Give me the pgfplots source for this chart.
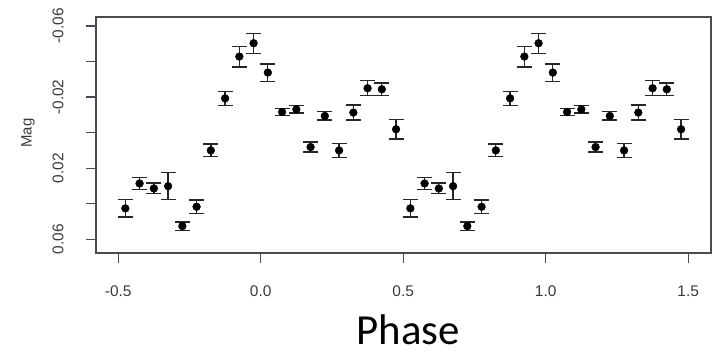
\documentclass[border=0pt]{standalone}
\usepackage{pgfplots}
\pgfplotsset{compat=1.18}
\usepackage{pgfplotstable}
\usepackage{fontspec}
\setmainfont{Liberation Sans}
\newfontfamily\calibri{Carlito}
\definecolor{framec}{HTML}{4A4A52}
\definecolor{tickc}{HTML}{3A3A3A}

\pgfplotstableread{
phase mag err
-0.475 0.0426 0.0049
-0.425 0.0286 0.0033
-0.375 0.0314 0.0030
-0.325 0.0301 0.0075
-0.275 0.0526 0.0023
-0.225 0.0417 0.0038
-0.175 0.0100 0.0036
-0.125 -0.0193 0.0040
-0.075 -0.0428 0.0058
-0.025 -0.0503 0.0056
0.025 -0.0338 0.0049
0.075 -0.0116 0.0020
0.125 -0.0131 0.0020
0.175 0.0081 0.0028
0.225 -0.0094 0.0023
0.275 0.0100 0.0038
0.325 -0.0113 0.0042
0.375 -0.0250 0.0042
0.425 -0.0244 0.0035
0.475 -0.0019 0.0054
0.525 0.0426 0.0049
0.575 0.0286 0.0033
0.625 0.0314 0.0030
0.675 0.0301 0.0075
0.725 0.0526 0.0023
0.775 0.0417 0.0038
0.825 0.0100 0.0036
0.875 -0.0193 0.0040
0.925 -0.0428 0.0058
0.975 -0.0503 0.0056
1.025 -0.0338 0.0049
1.075 -0.0116 0.0020
1.125 -0.0131 0.0020
1.175 0.0081 0.0028
1.225 -0.0094 0.0023
1.275 0.0100 0.0038
1.325 -0.0113 0.0042
1.375 -0.0250 0.0042
1.425 -0.0244 0.0035
1.475 -0.0019 0.0054
}\lcdata

\begin{document}
\begin{tikzpicture}
\path[use as bounding box] (0,0) rectangle (715bp,354bp);
\begin{axis}[
  at={(96bp,101bp)}, anchor=south west,
  scale only axis, width=615bp, height=236bp,
  xmin=-0.578, xmax=1.580,
  ymin=-0.06506, ymax=0.06771,
  y dir=reverse,
  scaled y ticks=false, scaled x ticks=false,
  axis line style={framec, line width=1.2bp},
  tick pos=left, tick align=outside,
  major tick length=10bp,
  every tick/.style={framec, line width=1.2bp},
  xtick={-0.5,0,0.5,1,1.5},
  xticklabels={-0.5,0.0,0.5,1.0,1.5},
  ytick={-0.06,-0.04,-0.02,0,0.02,0.04,0.06},
  yticklabels={-0.06,,-0.02,,0.02,,0.06},
  /pgf/number format/assume math mode=true,
  ticklabel style={font=\fontsize{15.5}{17}\selectfont, text=tickc},
  xticklabel shift=19bp,
  yticklabel style={rotate=90, anchor=south},
  yticklabel shift=19bp,
  ylabel={Mag},
  ylabel style={at={(axis description cs:-0.1106,0.508)}, anchor=center, font=\fontsize{15}{17}\selectfont, text=tickc},
  xlabel={Phase},
  xlabel style={at={(axis description cs:0.508,-0.386)}, anchor=base, inner sep=0pt, font=\calibri\fontsize{43}{48}\selectfont, text=black},
  clip=false,
]
\addplot+[only marks, black, mark=*, mark size=3.9bp, mark options={fill=black, draw=black},
  error bars/.cd, y dir=both, y explicit,
  error bar style={line width=1.3bp, color=black!85},
  error mark options={rotate=90, mark size=7.5bp, line width=1.3bp, color=black!85}]
  table[x=phase, y=mag, y error=err]{\lcdata};
\end{axis}
\end{tikzpicture}
\end{document}
